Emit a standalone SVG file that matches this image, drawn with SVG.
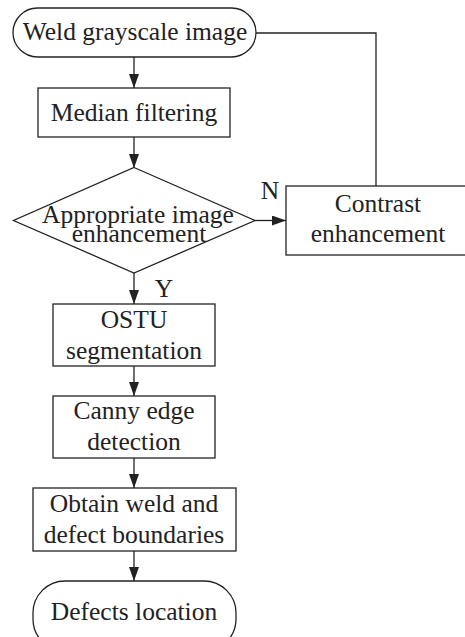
<svg xmlns="http://www.w3.org/2000/svg" width="465" height="637" viewBox="0 0 465 637">
<defs>
<style>
.s{fill:#fff;stroke:#222;stroke-width:1.3}
.c{fill:none;stroke:#222;stroke-width:1.3}
text{font-family:"Liberation Serif","Times New Roman",serif;font-size:25.5px;fill:#222;text-anchor:middle}
</style>
<marker id="ah" viewBox="0 0 14 10" refX="14" refY="5" markerWidth="14" markerHeight="10" markerUnits="userSpaceOnUse" orient="auto">
<path d="M0,0 L14,5 L0,10 Z" fill="#222"/>
</marker>
</defs>
<rect width="465" height="637" fill="#fff"/>
<g id="connectors">
<line class="c" x1="134" y1="57" x2="134" y2="88" marker-end="url(#ah)"/>
<line class="c" x1="134" y1="137" x2="134" y2="168" marker-end="url(#ah)"/>
<line class="c" x1="255" y1="220.5" x2="286" y2="220.5" marker-end="url(#ah)"/>
<polyline class="c" points="376,186 376,33 256,33"/>
<line class="c" x1="134" y1="273" x2="134" y2="304" marker-end="url(#ah)"/>
<line class="c" x1="134" y1="366" x2="134" y2="396" marker-end="url(#ah)"/>
<line class="c" x1="134" y1="458" x2="134" y2="488" marker-end="url(#ah)"/>
<line class="c" x1="134" y1="551" x2="134" y2="581" marker-end="url(#ah)"/>
<text x="270" y="199">N</text>
<text x="164" y="297">Y</text>
</g>
<g id="start">
<rect class="s" x="13" y="8" width="243" height="49" rx="24.5"/>
<text x="135" y="40">Weld grayscale image</text>
</g>
<g id="median">
<rect class="s" x="38" y="88" width="192" height="49"/>
<text x="134" y="121">Median filtering</text>
</g>
<g id="decision">
<polygon class="s" points="134,167.5 255,220.5 134,273 13.5,220.5"/>
<text x="138" y="223">Appropriate image<tspan x="139" y="242">enhancement</tspan></text>
</g>
<g id="contrast">
<rect class="s" x="286" y="186" width="190" height="69"/>
<text x="378" y="212">Contrast<tspan x="378" y="242">enhancement</tspan></text>
</g>
<g id="ostu">
<rect class="s" x="53" y="304" width="162" height="62"/>
<text x="134" y="328">OSTU<tspan x="134" y="359">segmentation</tspan></text>
</g>
<g id="canny">
<rect class="s" x="53" y="396" width="162" height="62"/>
<text x="134" y="419">Canny edge<tspan x="134" y="450">detection</tspan></text>
</g>
<g id="obtain">
<rect class="s" x="33" y="488" width="203" height="63"/>
<text x="134" y="512">Obtain weld and<tspan x="134" y="543">defect boundaries</tspan></text>
</g>
<g id="end">
<rect class="s" x="33" y="581" width="203" height="70" rx="32"/>
<text x="134" y="620">Defects location</text>
</g>
</svg>
